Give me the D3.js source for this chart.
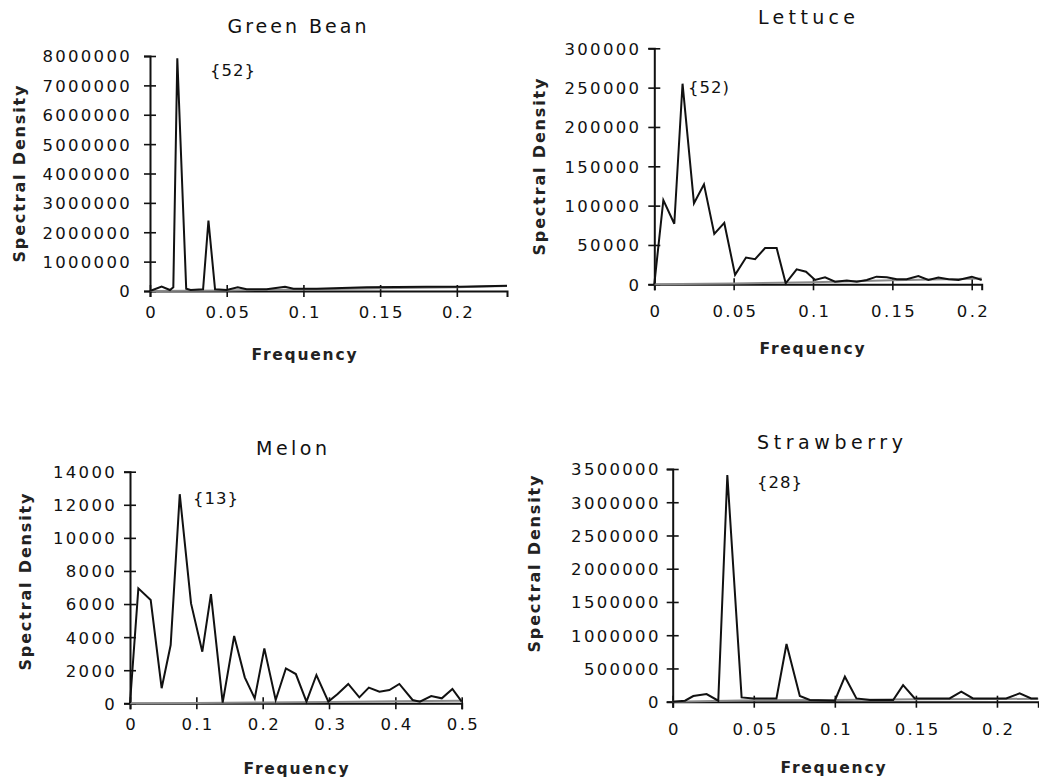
<!DOCTYPE html>
<html><head><meta charset="utf-8">
<script src="https://cdn.jsdelivr.net/npm/d3@7"></script>
<style>
body{margin:0;background:#fff}
svg{display:block}
</style>
</head><body>
<svg id="c" width="1039" height="780"></svg>
<script>
// ---------- DATA ----------
const titles = ["Green Bean", "Lettuce", "Melon", "Strawberry"];
const peakLabels = ["{52}", "{52)", "{13}", "{28}"];
const yTitle = "Spectral Density";
const xTitle = "Frequency";

// Green Bean
const gbFreq = [0, 0.0076, 0.013, 0.0152, 0.0178, 0.0236, 0.0265, 0.0346, 0.0381, 0.0424, 0.05, 0.0572, 0.063, 0.076, 0.088, 0.0935, 0.1087, 0.1413, 0.180, 0.202, 0.2327];
const gbDens = [0, 148000, 34000, 125000, 7920000, 80000, 34000, 57000, 2400000, 57000, 34000, 125000, 57000, 57000, 148000, 80000, 80000, 125000, 148000, 148000, 180000];
const gbGreyFreq = [0, 0.05, 0.1, 0.15, 0.2, 0.2327];
const gbGreyDens = [0, 20000, 50000, 90000, 130000, 170000];
const gbXTicks = [0, 0.05, 0.1, 0.15, 0.2];
const gbXLabels = ["0", "0.05", "0.1", "0.15", "0.2"];
const gbYTicks = [0, 1000000, 2000000, 3000000, 4000000, 5000000, 6000000, 7000000, 8000000];
const gbYLabels = ["0", "1000000", "2000000", "3000000", "4000000", "5000000", "6000000", "7000000", "8000000"];

// Lettuce
const letFreq = [0, 0.0057, 0.0126, 0.0178, 0.025, 0.0313, 0.0378, 0.0441, 0.0509, 0.0578, 0.0635, 0.0698, 0.0771, 0.0828, 0.0897, 0.0956, 0.1013, 0.1076, 0.1139, 0.1213, 0.1276, 0.1339, 0.140, 0.1465, 0.1528, 0.159, 0.1664, 0.1727, 0.179, 0.1854, 0.1917, 0.2001, 0.2063];
const letDens = [0, 107000, 77000, 255000, 103000, 127000, 64000, 78000, 12000, 34000, 32000, 46000, 46000, 1300, 19000, 16000, 5500, 9000, 3400, 4700, 3400, 5500, 9700, 8900, 6400, 6400, 10600, 5500, 8500, 6400, 5500, 9700, 5500];
const letGreyFreq = [0, 0.05, 0.1, 0.15, 0.2, 0.2063];
const letGreyDens = [0, 1000, 2500, 5000, 7000, 7500];
const letXTicks = [0, 0.05, 0.1, 0.15, 0.2];
const letXLabels = ["0", "0.05", "0.1", "0.15", "0.2"];
const letYTicks = [0, 50000, 100000, 150000, 200000, 250000, 300000];
const letYLabels = ["0", "50000", "100000", "150000", "200000", "250000", "300000"];

// Melon
const melFreq = [0, 0.0126, 0.0312, 0.0477, 0.0613, 0.0750, 0.092, 0.109, 0.122, 0.1397, 0.157, 0.173, 0.188, 0.2025, 0.2196, 0.235, 0.250, 0.266, 0.281, 0.299, 0.313, 0.329, 0.3457, 0.360, 0.376, 0.391, 0.406, 0.426, 0.437, 0.454, 0.470, 0.486, 0.5];
const melDens = [0, 6950, 6240, 910, 3520, 12640, 6040, 3120, 6600, 40, 4070, 1570, 300, 3320, 200, 2110, 1770, 100, 1710, 100, 560, 1170, 360, 950, 700, 800, 1170, 200, 100, 440, 300, 870, 100];
const melGreyFreq = [0, 0.1, 0.2, 0.3, 0.4, 0.5];
const melGreyDens = [0, 20, 50, 80, 120, 160];
const melXTicks = [0, 0.1, 0.2, 0.3, 0.4, 0.5];
const melXLabels = ["0", "0.1", "0.2", "0.3", "0.4", "0.5"];
const melYTicks = [0, 2000, 4000, 6000, 8000, 10000, 12000, 14000];
const melYLabels = ["0", "2000", "4000", "6000", "8000", "10000", "12000", "14000"];

// Strawberry
const strFreq = [0, 0.0076, 0.0127, 0.0209, 0.0281, 0.0337, 0.0425, 0.0497, 0.064, 0.0702, 0.0784, 0.0846, 0.1, 0.1062, 0.1133, 0.1216, 0.136, 0.1421, 0.1493, 0.1708, 0.178, 0.1852, 0.2057, 0.214, 0.2211, 0.2252];
const strDens = [0, 15000, 85000, 115000, 15000, 3410000, 65000, 50000, 50000, 868000, 85000, 25000, 15000, 376000, 50000, 25000, 25000, 250000, 50000, 50000, 150000, 50000, 50000, 125000, 50000, 50000];
const strGreyFreq = [0, 0.05, 0.1, 0.15, 0.2, 0.2255];
const strGreyDens = [0, 20000, 25000, 35000, 40000, 45000];
const strXTicks = [0, 0.05, 0.1, 0.15, 0.2];
const strXLabels = ["0", "0.05", "0.1", "0.15", "0.2"];
const strYTicks = [0, 500000, 1000000, 1500000, 2000000, 2500000, 3000000, 3500000];
const strYLabels = ["0", "500000", "1000000", "1500000", "2000000", "2500000", "3000000", "3500000"];

// ---------- LAYOUT (pixels / styles) ----------
const panels = [
  {freq: gbFreq, dens: gbDens, gf: gbGreyFreq, gd: gbGreyDens, xt: gbXTicks, xl: gbXLabels, yt: gbYTicks, yl: gbYLabels,
   xMax: 0.2327, yMax: 8000000,
   L: {x0:150, x1:507, yTop:56, yBot:291, tX:297, tY:33, tW:139, yTX:25, yTY:174, xTX:304, xTY:360, aX:210, aY:76, xLab:27, yGap:20}},
  {freq: letFreq, dens: letDens, gf: letGreyFreq, gd: letGreyDens, xt: letXTicks, xl: letXLabels, yt: letYTicks, yl: letYLabels,
   xMax: 0.2063, yMax: 300000,
   L: {x0:654.3, x1:981.7, yTop:48.3, yBot:284.3, tX:806.5, tY:24, tW:97, yTX:545, yTY:167, xTX:812, xTY:354, aX:688, aY:93, xLab:33, yGap:15}},
  {freq: melFreq, dens: melDens, gf: melGreyFreq, gd: melGreyDens, xt: melXTicks, xl: melXLabels, yt: melYTicks, yl: melYLabels,
   xMax: 0.5, yMax: 14000,
   L: {x0:130, x1:461.7, yTop:471.7, yBot:703.3, tX:291.5, tY:455, tW:71, yTX:31, yTY:582, xTX:296, xTY:774, aX:193, aY:504, xLab:27, yGap:15}},
  {freq: strFreq, dens: strDens, gf: strGreyFreq, gd: strGreyDens, xt: strXTicks, xl: strXLabels, yt: strYTicks, yl: strYLabels,
   xMax: 0.2255, yMax: 3500000,
   L: {x0:672.7, x1:1038.3, yTop:469, yBot:701.7, tX:830, tY:449, tW:146, yTX:540, yTY:564, xTX:833, xTY:773, aX:757, aY:488, xLab:33, yGap:14}}
];

const FONT = "'DejaVu Sans', Verdana, sans-serif";
const svg = d3.select("#c");

panels.forEach((p, i) => {
  const L = p.L;
  const x = d3.scaleLinear().domain([0, p.xMax]).range([L.x0, L.x1]);
  const y = d3.scaleLinear().domain([0, p.yMax]).range([L.yBot, L.yTop]);
  const g = svg.append("g");

  // title
  g.append("text").attr("x", L.tX).attr("y", L.tY).attr("text-anchor", "middle")
    .attr("textLength", L.tW).attr("lengthAdjust", "spacing")
    .style("font-family", FONT).style("font-size", "19px").style("fill", "#111")
    .text(titles[i]);

  // x axis
  const xa = g.append("g").attr("transform", `translate(0,${L.yBot})`)
    .call(d3.axisBottom(x).tickValues(p.xt).tickFormat((d, k) => p.xl[k]).tickSizeOuter(0).tickSize(6));
  xa.select(".domain").attr("stroke", "#111").attr("stroke-width", 2);
  xa.selectAll(".tick line").attr("y1", -6).attr("y2", 6).attr("stroke", "#111").attr("stroke-width", 1.6);
  xa.selectAll(".tick text").attr("y", L.xLab).attr("dy", 0).attr("dx", 1.2)
    .style("font-family", FONT).style("font-size", "16.5px").style("letter-spacing", "2.3px").attr("fill", "#111");

  // y axis
  const ya = g.append("g").attr("transform", `translate(${L.x0},0)`)
    .call(d3.axisLeft(y).tickValues(p.yt).tickFormat((d, k) => p.yl[k]).tickSizeOuter(0).tickSize(6));
  ya.select(".domain").attr("stroke", "#111").attr("stroke-width", 2);
  ya.selectAll(".tick line").attr("x1", -6).attr("x2", 6).attr("stroke", "#111").attr("stroke-width", 1.6);
  ya.selectAll(".tick text").attr("x", -L.yGap + 2).attr("dy", "0.36em")
    .style("font-family", FONT).style("font-size", "16.5px").style("letter-spacing", "2.3px").attr("fill", "#111");

  // y title
  g.append("text").attr("transform", `translate(${L.yTX},${L.yTY}) rotate(-90)`)
    .attr("text-anchor", "middle").attr("textLength", 177).attr("lengthAdjust", "spacing")
    .style("font-family", FONT).style("font-size", "16px").style("font-weight", "bold").style("fill", "#222")
    .text(yTitle);

  // x title
  g.append("text").attr("x", L.xTX).attr("y", L.xTY).attr("text-anchor", "middle")
    .attr("textLength", 105).attr("lengthAdjust", "spacing")
    .style("font-family", FONT).style("font-size", "15.5px").style("font-weight", "bold").style("fill", "#222")
    .text(xTitle);

  // grey near-zero line
  const line = d3.line().x(d => x(d[0])).y(d => y(d[1]));
  g.append("path").datum(d3.zip(p.gf, p.gd)).attr("d", line)
    .attr("fill", "none").attr("stroke", "#8a8a8a").attr("stroke-width", 2);

  // main series
  g.append("path").datum(d3.zip(p.freq, p.dens)).attr("d", line)
    .attr("fill", "none").attr("stroke", "#111").attr("stroke-width", 2).attr("stroke-linejoin", "miter");

  // peak annotation
  g.append("text").attr("x", L.aX).attr("y", L.aY)
    .style("font-family", FONT).style("font-size", "16.5px").style("letter-spacing", "1px").style("fill", "#111")
    .text(peakLabels[i]);
});
</script>
</body></html>
